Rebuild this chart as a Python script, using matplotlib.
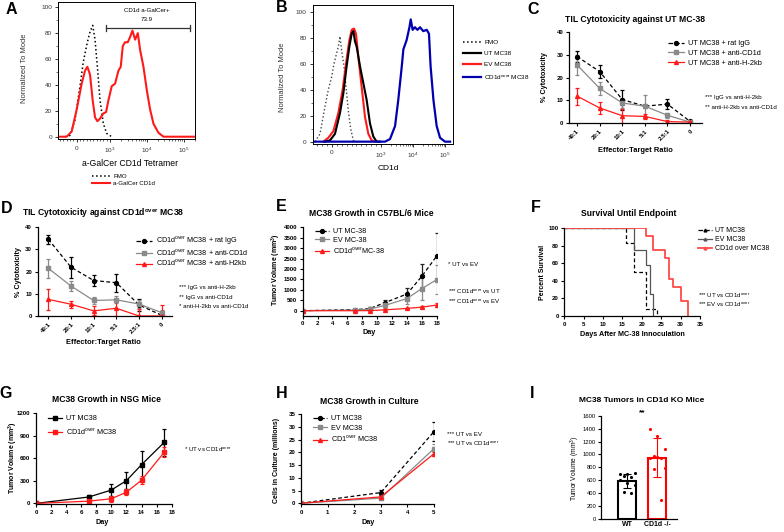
import numpy as np
import matplotlib
matplotlib.use("Agg")
import matplotlib.pyplot as plt
from matplotlib.ticker import FixedLocator, MultipleLocator
from matplotlib.lines import Line2D

plt.rcParams['font.family'] = ['Liberation Sans', 'DejaVu Sans']
plt.rcParams['mathtext.default'] = 'regular'
plt.rcParams['axes.linewidth'] = 0.9

# ---------------- data ----------------
# A: flow histogram (fluorescence, % of mode)
a_fmo_x = [-350, -200, -50, 100, 200, 320, 400, 480, 550, 620, 700, 800, 900, 1110]
a_fmo_y = [0, 1, 13, 39, 58, 73, 81, 86, 75, 54, 28, 10, 2.5, 0]
a_gal_x = [-550, -300, -150, 0, 150, 250, 320, 400, 480, 550, 620, 700, 800, 880, 950,
           1110, 1370, 1520, 1690, 1950, 2220, 2560, 3030, 3510, 4060, 4810, 5690, 6580,
           8110, 10000, 12300, 15200, 20800, 28500, 208000]
a_gal_y = [0, 0, 4, 21, 41, 51, 54, 48, 28, 15, 12, 14, 18, 19, 28,
           39, 41, 46, 51, 54, 70, 73, 73, 77, 82, 75, 80, 67,
           54, 36, 21, 10, 3, 0, 0]
a_gate = (880, 146000, 84)
a_gate_pct = 73.9

# B: CD1d expression
b_fmo_x = [-347, -245, -143, -75, -6, 41, 95, 129, 163, 197, 245, 286, 333, 381, 436, 503]
b_fmo_y = [0, 6, 27, 40, 50, 60, 68, 73, 81, 70, 58, 42, 24, 10, 1, 0]
b_ut_x = [-143, -41, 61, 163, 231, 299, 354, 402, 436, 470, 504, 572, 640, 708, 776, 843, 912, 980]
b_ut_y = [0, 1, 6, 22, 37, 58, 73, 83, 85, 77, 73, 58, 45, 32, 14, 4, 0, 0]
b_ev_x = [-177, -75, 27, 129, 218, 286, 354, 402, 449, 490, 538, 606, 674, 742, 810, 878]
b_ev_y = [0, 3, 8, 22, 40, 60, 78, 86, 87, 83, 65, 42, 19, 6, 1, 0]
b_over_x = [-350, 1000, 1337, 1917, 2754, 3470, 4470, 5010, 6310, 7760, 8510, 9770, 11500,
            13800, 16600, 20900, 26900, 31600, 35500, 43600, 55000, 70000, 100000, 144000]
b_over_y = [0, 0, 0, 2, 12, 32, 58, 71, 78, 88, 94, 86, 88,
            86, 88, 85, 86, 83, 58, 32, 12, 3, 0, 0]

# C / D: cytotoxicity
ratios = ['40:1', '20:1', '10:1', '5:1', '2.5:1', '0']
c_igg = [29.2, 22.6, 10.3, 7.4, 8.3, 0.7]
c_igg_err = [2.3, 3.0, 4.4, 0.5, 2.2, 0.5]
c_cd1d = [25.5, 15.2, 8.8, 7.4, 3.4, 0.4]
c_cd1d_err = [4.3, 3.0, 2.0, 5.0, 1.0, 0.3]
c_h2kb = [11.8, 6.6, 3.2, 2.9, 0.6, 0.4]
c_h2kb_err = [3.7, 2.6, 3.0, 1.0, 0.8, 0.5]

d_igg = [34.6, 22.0, 16.0, 15.0, 5.0, 0.3]
d_igg_err = [2.0, 4.8, 2.4, 4.0, 2.8, 0.8]
d_cd1d = [21.5, 13.5, 7.0, 7.3, 5.4, 1.5]
d_cd1d_err = [4.2, 2.4, 1.7, 1.5, 2.0, 1.0]
d_h2kb = [7.5, 5.3, 2.3, 3.5, 0.0, 0.0]
d_h2kb_err = [4.7, 1.5, 2.0, 3.5, 3.0, 5.0]

# E: growth in C57BL/6
e_days = [0, 7, 9, 11, 14, 16, 18]
e_ut = [0, 50, 100, 380, 800, 1650, 2620]
e_ut_err = [0, 40, 60, 130, 300, 600, 1120]
e_ev = [0, 30, 80, 250, 580, 1060, 1490]
e_ev_err = [0, 30, 50, 100, 250, 550, 700]
e_over = [0, 0, 5, 40, 110, 170, 270]
e_over_err = [0, 10, 20, 30, 30, 40, 100]

# F: survival
f_ut_t = [0, 16, 18, 21, 24]
f_ut_s = [100, 83.3, 50, 8.3, 0]
f_ev_t = [0, 18, 21, 22, 23]
f_ev_s = [100, 75, 58.3, 25, 0]
f_over_t = [0, 21, 23, 26, 27, 28, 30, 32]
f_over_s = [100, 91.7, 75, 66.7, 41.7, 33.3, 16.7, 0]

# G: growth in NSG
g_days = [0, 7, 10, 12, 14, 17]
g_ut = [0, 85, 178, 304, 516, 812]
g_ut_err = [0, 30, 75, 115, 180, 180]
g_over = [0, 30, 62, 150, 309, 680]
g_over_err = [0, 15, 40, 40, 55, 65]

# H: growth in culture
h_days = [0, 3, 5]
h_ut = [0, 4.2, 28.2]
h_ut_err = [0, 1.0, 3.9]
h_ev = [0, 2.0, 21.5]
h_ev_err = [0, 0.8, 2.0]
h_over = [0, 2.5, 19.5]
h_over_err = [0, 0.5, 0.8]

# I: tumours in CD1d KO mice
i_groups = ['WT', 'CD1d -/-']
i_wt = [700, 690, 710, 665, 650, 600, 555, 520, 415, 410]
i_ko = [1400, 1290, 1080, 975, 940, 950, 965, 790, 775, 300]

# ---------------- figure ----------------
W, H = 784, 532
fig = plt.figure(figsize=(W / 100, H / 100), dpi=100)
GRAY = '#8a8a8a'
RED = '#ff1a1a'
ANN = 4.4   # size of the significance notes


def box(x0, y0, x1, y1):
    return fig.add_axes([x0 / W, 1 - y1 / H, (x1 - x0) / W, (y1 - y0) / H])


def put(x, y, s, **kw):
    kw.setdefault('ha', 'center')
    kw.setdefault('va', 'center')
    fig.text(x / W, 1 - y / H, s, **kw)


def letter(x, y, s):
    put(x, y, s, fontsize=11.5, fontweight='bold')


def flow_axes(ax, linscale, xlim, ylim):
    ax.set_xscale('symlog', linthresh=1000, linscale=linscale)
    ax.set_xlim(*xlim)
    ax.set_ylim(*ylim)
    ax.xaxis.set_major_locator(FixedLocator([0, 1e3, 1e4, 1e5]))
    ax.set_xticklabels(['0', '$10^3$', '$10^4$', '$10^5$'])
    minor = list(range(-500, 1000, 100)) + [k * 10 ** e for e in (3, 4) for k in range(2, 10)] + [2e5]
    ax.xaxis.set_minor_locator(FixedLocator(minor))
    ax.yaxis.set_major_locator(MultipleLocator(20))
    ax.yaxis.set_minor_locator(MultipleLocator(10))
    ax.tick_params(labelsize=4.6, length=2.5, width=0.7, colors='#333', pad=2)
    ax.tick_params(which='minor', length=1.5, width=0.5, colors='#333')
    for s in ax.spines.values():
        s.set_linewidth(0.7)


def prism(ax, bold=True):
    for s in ('top', 'right'):
        ax.spines[s].set_visible(False)
    ax.tick_params(labelsize=4.4, length=2.5, width=0.8, pad=1.5)
    if bold:
        plt.setp(ax.get_xticklabels() + ax.get_yticklabels(), fontweight='bold')


def eb(ax, x, y, err, color, ls='-', marker='o', ms=2.8, ecolor=None):
    ax.errorbar(x, y, yerr=err, color=color, ls=ls, marker=marker, ms=ms, lw=0.9,
                capsize=1.5, elinewidth=0.9, capthick=0.9, ecolor=ecolor or color,
                dashes=(3, 2) if ls == '--' else (None, None))


def handle(color, ls='-', marker='o', ms=2.8, lw=0.9):
    return Line2D([], [], color=color, ls=ls, marker=marker, ms=ms, lw=lw)


def legend(ax, handles, labels, x, y, fs=4.8, spacing=0.45, hl=2.2):
    ax.legend(handles, labels, loc='upper left', bbox_to_anchor=(x / W, 1 - y / H),
              bbox_transform=fig.transFigure, frameon=False, fontsize=fs,
              handlelength=hl, labelspacing=spacing, borderpad=0, borderaxespad=0,
              handletextpad=0.5)


# ---- A ----
ax = box(58.3, 1.7, 195, 139.3)
ax.plot(a_fmo_x, a_fmo_y, color='black', ls=':', lw=1.1)
ax.plot(a_gal_x, a_gal_y, color=RED, lw=1.5)
flow_axes(ax, 0.818, (-550, 205000), (-2, 104.3))
gx0, gx1, gy = a_gate
ax.plot([gx0, gx1], [gy, gy], color='#333', lw=0.9)
ax.plot([gx0, gx0], [gy - 2.5, gy + 2.5], color='#333', lw=0.9)
ax.plot([gx1, gx1], [gy - 2.5, gy + 2.5], color='#333', lw=0.9)
ax.text(np.sqrt(gx0 * gx1) * 0.9, 97.5, 'CD1d a-GalCer+', fontsize=4.4, ha='center', va='center')
ax.text(np.sqrt(gx0 * gx1) * 0.9, 90.5, f'{a_gate_pct}', fontsize=4.4, ha='center', va='center')
put(25, 68, 'Normalized To Mode', rotation=90, fontsize=5.4, color='#333')
put(130, 163, 'a-GalCer CD1d Tetramer', fontsize=6.2)
legend(ax, [Line2D([], [], color='black', ls=':', lw=1.1), Line2D([], [], color=RED, lw=1.5)],
       ['FMO', 'a-GalCer CD1d'], 92, 174, fs=4.4, spacing=0.25, hl=3.0)
letter(11, 10, 'A')

# ---- B ----
ax = box(313, 5, 453, 144)
ax.plot(b_fmo_x, b_fmo_y, color='#444', ls=':', lw=1.0)
ax.plot(b_ev_x, b_ev_y, color=RED, lw=1.5)
ax.plot(b_ut_x, b_ut_y, color='black', lw=1.5)
ax.plot(b_over_x, b_over_y, color='#0000b0', lw=1.6)
flow_axes(ax, 1.377, (-388, 178000), (-1.8, 105.1))
put(282, 77, 'Normalized To Mode', rotation=90, fontsize=5.4, color='#333')
put(388, 169, 'CD1d', fontsize=6.0)
legend(ax, [Line2D([], [], color='black', ls=':', lw=1.1), Line2D([], [], color='black', lw=1.6),
            Line2D([], [], color=RED, lw=1.6), Line2D([], [], color='#0000b0', lw=1.6)],
       ['FMO', 'UT MC38', 'EV MC38', 'CD1d$^{over}$ MC38'], 463, 40, fs=4.6, spacing=0.85, hl=2.8)
letter(282, 8, 'B')

# ---- C ----
ax = box(569, 32, 702, 123)
xr = np.arange(len(ratios))
eb(ax, xr, c_igg, c_igg_err, 'black', ls='--', marker='o')
eb(ax, xr, c_cd1d, c_cd1d_err, GRAY, marker='s')
eb(ax, xr, c_h2kb, c_h2kb_err, RED, marker='^')
ax.set_xlim(-0.36, 5.53)
ax.set_ylim(0, 40)
ax.set_yticks([0, 10, 20, 30, 40])
ax.set_xticks(xr, ratios, rotation=45, ha='right', rotation_mode='anchor')
prism(ax)
legend(ax, [handle('black', '--', 'o'), handle(GRAY, '-', 's'), handle(RED, '-', '^')],
       ['UT MC38 + rat IgG', 'UT MC38 + anti-CD1d', 'UT MC38 + anti-H-2kb'], 668, 40, fs=5.3, spacing=0.35)
put(635, 20, 'TIL Cytotoxicity against UT MC-38', fontsize=6.2, fontweight='bold')
put(545, 77, '% Cytotoxicity', rotation=90, fontsize=5.2, fontweight='bold')
put(635, 150, 'Effector:Target Ratio', fontsize=5.4, fontweight='bold')
put(705, 98, '*** IgG vs anti-H-2kb', fontsize=ANN, ha='left')
put(705, 108, '** anti-H-2kb vs anti-CD1d', fontsize=ANN, ha='left')
letter(533, 9, 'C')

# ---- D ----
ax = box(37.7, 227.3, 171.7, 316)
eb(ax, xr, d_igg, d_igg_err, 'black', ls='--', marker='o')
eb(ax, xr, d_cd1d, d_cd1d_err, GRAY, marker='s')
eb(ax, xr, d_h2kb, d_h2kb_err, RED, marker='^')
ax.set_xlim(-0.47, 5.44)
ax.set_ylim(0, 40)
ax.set_yticks([0, 10, 20, 30, 40])
ax.set_xticks(xr, ratios, rotation=45, ha='right', rotation_mode='anchor')
prism(ax)
legend(ax, [handle('black', '--', 'o'), handle(GRAY, '-', 's'), handle(RED, '-', '^')],
       ['CD1d$^{over}$ MC38 + rat IgG', 'CD1d$^{over}$ MC38 + anti-CD1d', 'CD1d$^{over}$ MC38 + anti-H2kb'],
       136, 235, fs=5.2, spacing=0.02)
put(103, 213, 'TIL Cytotoxicity against CD1d$^{over}$ MC38', fontsize=6.2, fontweight='bold')
put(18, 272, '% Cytotoxicity', rotation=90, fontsize=5.2, fontweight='bold')
put(103, 343, 'Effector:Target Ratio', fontsize=5.4, fontweight='bold')
put(179, 287, '*** IgG vs anti-H-2kb', fontsize=ANN, ha='left')
put(179, 297, '** IgG vs anti-CD1d', fontsize=ANN, ha='left')
put(179, 307, '* anti-H-2kb vs anti-CD1d', fontsize=ANN, ha='left')
letter(7, 209, 'D')

# ---- E ----
ax = box(302.7, 227.3, 436.7, 315.7)
eb(ax, e_days, e_ut, e_ut_err, 'black', ls='--', marker='o', ecolor='#222')
eb(ax, e_days, e_ev, e_ev_err, GRAY, marker='s')
eb(ax, e_days, e_over, e_over_err, RED, marker='^')
ax.set_xlim(0, 18)
ax.set_ylim(-240, 4000)
ax.set_yticks(np.arange(0, 4001, 500))
ax.set_xticks(np.arange(0, 19, 2))
prism(ax)
legend(ax, [handle('black', '--', 'o'), handle(GRAY, '-', 's'), handle(RED, '-', '^')],
       ['UT MC-38', 'EV MC-38', 'CD1d$^{over}$MC-38'], 315, 228, fs=5.2, spacing=0.25, hl=2.0)
put(371, 213, 'MC38 Growth in C57BL/6 Mice', fontsize=6.2, fontweight='bold')
put(276, 270, 'Tumor Volume (mm$^3$)', rotation=90, fontsize=5.0, fontweight='bold')
put(369, 333, 'Day', fontsize=5.2, fontweight='bold')
put(448, 264, '* UT vs EV', fontsize=ANN, ha='left')
put(448, 292, '*** CD1d$^{over}$ vs UT', fontsize=ANN, ha='left')
put(448, 302, '*** CD1d$^{over}$ vs EV', fontsize=ANN, ha='left')
letter(281, 206, 'E')

# ---- F ----
ax = box(564.3, 228.3, 700, 316)
ax.step(f_ut_t, f_ut_s, where='post', color='black', ls='--', lw=0.9, dashes=(3, 2))
ax.step(f_ev_t, f_ev_s, where='post', color='#555', lw=0.9)
ax.step(f_over_t, f_over_s, where='post', color='#ff4a4a', lw=1.3)
ax.set_xlim(0, 35)
ax.set_ylim(0, 100)
ax.set_xticks(np.arange(0, 36, 5))
ax.set_yticks(np.arange(0, 101, 20))
prism(ax)
legend(ax, [handle('black', '--', '^', ms=2), handle('#555', '-', '^', ms=2), handle('#ff4a4a', '-', '^', ms=2, lw=1.3)],
       ['UT MC38', 'EV MC38', 'CD1d over MC38'], 698, 227, fs=5.0, spacing=0.3, hl=2.0)
put(629, 213, 'Survival Until Endpoint', fontsize=6.2, fontweight='bold')
put(543, 272, 'Percent Survival', rotation=90, fontsize=5.0, fontweight='bold')
put(632, 334, 'Days After MC-38 Innoculation', fontsize=5.2, fontweight='bold')
put(698, 296, '*** UT vs CD1d$^{over}$', fontsize=ANN, ha='left')
put(698, 305, '*** EV vs CD1d$^{over}$', fontsize=ANN, ha='left')
letter(536, 207, 'F')

# ---- G ----
ax = box(36, 413.3, 171.7, 504)
eb(ax, g_days, g_ut, g_ut_err, 'black', marker='s')
eb(ax, g_days, g_over, g_over_err, RED, marker='s')
ax.set_xlim(0, 18)
ax.set_ylim(-8, 1200)
ax.set_yticks(np.arange(0, 1201, 300))
ax.set_xticks(np.arange(0, 19, 2))
prism(ax)
legend(ax, [handle('black', '-', 's'), handle(RED, '-', 's')],
       ['UT MC38', 'CD1d$^{over}$ MC38'], 48, 415, fs=5.2, spacing=0.6, hl=2.0)
put(106, 400, 'MC38 Growth in NSG Mice', fontsize=6.2, fontweight='bold')
put(13, 458, 'Tumor Volume (mm$^3$)', rotation=90, fontsize=5.0, fontweight='bold')
put(102, 522, 'Day', fontsize=5.2, fontweight='bold')
put(184, 450, '* UT vs CD1d$^{over}$', fontsize=ANN, ha='left')
letter(6, 394, 'G')

# ---- H ----
ax = box(301, 414.3, 434, 504)
eb(ax, h_days, h_ut, h_ut_err, 'black', ls='--', marker='o')
eb(ax, h_days, h_ev, h_ev_err, GRAY, marker='s')
eb(ax, h_days, h_over, h_over_err, RED, marker='^')
ax.set_xlim(0, 5)
ax.set_ylim(-0.3, 35)
ax.set_yticks(np.arange(0, 36, 5))
ax.set_xticks(np.arange(0, 6, 1))
prism(ax)
legend(ax, [handle('black', '--', 'o'), handle(GRAY, '-', 's'), handle(RED, '-', '^')],
       ['UT MC38', 'EV MC38', 'CD1$^{over}$ MC38'], 313, 415, fs=5.2, spacing=0.35, hl=2.0)
put(369, 401, 'MC38 Growth in Culture', fontsize=6.2, fontweight='bold')
put(276, 460, 'Cells in Culture (millions)', rotation=90, fontsize=5.0, fontweight='bold')
put(368, 523, 'Day', fontsize=5.2, fontweight='bold')
put(447, 435, '*** UT vs EV', fontsize=ANN, ha='left')
put(447, 444, '*** UT vs CD1d$^{over}$', fontsize=ANN, ha='left')
letter(282, 394, 'H')

# ---- I ----
ax = box(601, 415.7, 676.7, 519)
for k, (vals, col) in enumerate(zip([i_wt, i_ko], ['black', 'red'])):
    v = np.array(vals, dtype=float)
    ax.bar(k, v.mean(), width=0.61, facecolor='white', edgecolor=col, lw=1.5, zorder=1)
    ax.errorbar(k, v.mean(), yerr=v.std(ddof=1), color=col, capsize=3, lw=0.8, capthick=0.8, zorder=2)
    off = np.tile([-0.25, 0.0, 0.25, -0.12, 0.12], 3)[:len(v)]
    ax.scatter(k + off, v, s=5, color=col, zorder=3, linewidths=0)
ax.set_xlim(-0.88, 1.65)
ax.set_ylim(0, 1600)
ax.set_yticks(np.arange(0, 1601, 200))
ax.set_xticks([0, 1], i_groups)
prism(ax, bold=False)
ax.tick_params(axis='y', labelsize=4.2, pad=1)
ax.tick_params(axis='x', length=0, labelsize=5.0)
plt.setp(ax.get_xticklabels(), fontweight='bold')
put(642, 401, 'MC38 Tumors in CD1d KO Mice', fontsize=6.0, fontweight='bold')
put(575, 468, 'Tumor Volume (mm$^3$)', rotation=90, fontsize=4.8)
put(642, 413, '**', fontsize=6.0, fontweight='bold')
letter(532, 393, 'I')

fig.savefig('out.png', dpi=100)
